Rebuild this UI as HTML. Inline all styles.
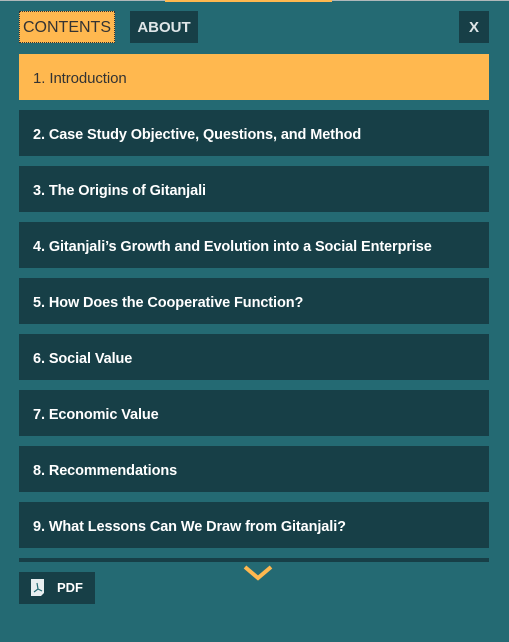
<!DOCTYPE html>
<html><head><meta charset="utf-8"><style>
*{margin:0;padding:0;box-sizing:border-box}
body{width:509px;height:642px;background:#246a73;font-family:"Liberation Sans",sans-serif;position:relative;overflow:hidden}
.a{position:absolute}
.tab{height:32px;top:11px;font-size:16px;line-height:33px;text-align:center}
.item{left:19px;width:470px;height:46px;background:#173f47;color:#fff;font-size:14.5px;font-weight:bold;line-height:50px;padding-left:14px;letter-spacing:-0.1px}
</style></head><body>
<div class="a" style="left:0;top:0;width:509px;height:1px;background:#b0b8ba"></div>
<div class="a" style="left:165px;top:0;width:167px;height:2px;background:#ffb84f"></div>
<div class="a tab" style="left:19px;width:96px;background:#ffb84f;color:#333;border:1px dotted #333;line-height:31px">CONTENTS</div>
<div class="a tab" style="left:130px;width:68px;background:#173f47;color:#dfe6e8;font-weight:bold;font-size:15px">ABOUT</div>
<div class="a tab" style="left:459px;width:30px;background:#173f47;color:#dfe6e8;font-weight:bold;font-size:15px">X</div>
<div class="a item" style="top:54px;background:#ffb84f;color:#333;font-weight:normal;font-size:15px">1. Introduction</div>
<div class="a item" style="top:110px">2. Case Study Objective, Questions, and Method</div>
<div class="a item" style="top:166px">3. The Origins of Gitanjali</div>
<div class="a item" style="top:222px">4. Gitanjali’s Growth and Evolution into a Social Enterprise</div>
<div class="a item" style="top:278px">5. How Does the Cooperative Function?</div>
<div class="a item" style="top:334px">6. Social Value</div>
<div class="a item" style="top:390px">7. Economic Value</div>
<div class="a item" style="top:446px">8. Recommendations</div>
<div class="a item" style="top:502px">9. What Lessons Can We Draw from Gitanjali?</div>
<div class="a" style="left:19px;top:558px;width:470px;height:4px;background:#173f47"></div>
<svg class="a" style="left:243px;top:565px" width="30" height="16"><polyline points="2,2 15,13 28,2" fill="none" stroke="#ffb84f" stroke-width="4"/></svg>
<div class="a" style="left:19px;top:572px;width:76px;height:32px;background:#173f47">
<svg class="a" style="left:12px;top:7px" width="14" height="18"><path d="M0,0H13V14L10,17H0Z" fill="#e8eef0"/><path d="M6,4 L7,10 L3,13 M7,10 L11,12" stroke="#246a73" stroke-width="1.2" fill="none"/></svg>
<span class="a" style="left:38px;top:0;line-height:32px;color:#fff;font-weight:bold;font-size:13px">PDF</span></div>
</body></html>
